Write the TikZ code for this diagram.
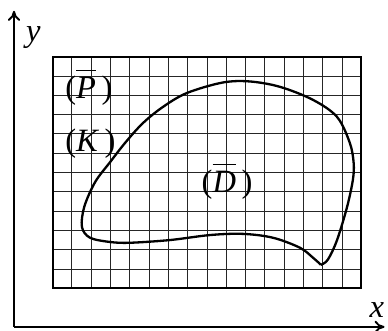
\documentclass[tikz,border=0pt]{standalone}
\usepackage{fontspec}
\setmainfont{Liberation Serif}
\usetikzlibrary{arrows.meta}

\newcommand{\barlet}[1]{$\overline{\mbox{\textit{#1}}\rule{0pt}{0.8em}}$}

\begin{document}
\begin{tikzpicture}[
    axis/.style={line width=1.4pt, -{To[length=2.6mm, width=3.2mm]}},
    gridline/.style={black!85, line width=0.7pt},
    frame/.style={line width=1.6pt},
    contour/.style={line width=1.7pt, line join=round},
    lbl/.style={font=\fontsize{24}{28}\selectfont, inner sep=0pt}
]
\useasboundingbox (-0.363,-0.104) rectangle (9.69,8.47);

% ---- sumbu koordinat ----
\coordinate (O)    at (0,0);
\coordinate (xend) at (9.6,0);
\coordinate (yend) at (0,8.19);
\draw[axis] (O) -- (xend);
\draw[axis] (O) -- (yend);
\node[lbl] (xlab) at (9.40,0.44) {\textit{x}};
\node[lbl] (ylab) at (0.50,7.49) {\textit{y}};

% ---- jaring persegi (P) ----
\draw[gridline] (1,1) grid[step=0.5] (9,7);
\draw[frame] (1,1) rectangle (9,7);

% ---- kurva batas (K), mulai dan berakhir di titik tajam ----
\draw[contour] plot[smooth, tension=0.55] coordinates {
    (7.95,1.61) (8.13,1.74) (8.37,2.25) (8.63,3.11) (8.78,3.81) (8.80,4.25)
    (8.70,4.77) (8.37,5.44) (7.75,5.88) (6.89,6.22) (6.10,6.36) (5.40,6.33)
    (4.48,6.06) (3.86,5.70) (3.34,5.28) (2.88,4.77) (2.49,4.27) (2.10,3.75)
    (1.82,3.11) (1.76,2.59) (1.97,2.31) (2.49,2.20) (3.01,2.18) (4.04,2.25)
    (5.08,2.38) (5.93,2.41) (6.71,2.31) (7.41,2.05) (7.75,1.79) (7.95,1.61)};

% ---- label daerah ----
\node[lbl] (Plab) at (1.94,6.20) {(\barlet{P}\,)};
\node[lbl] (Klab) at (1.98,4.74) {(\textit{K}\,)};
\node[lbl] (Dlab) at (5.52,3.77) {(\barlet{D}\,)};

\end{tikzpicture}
\end{document}
